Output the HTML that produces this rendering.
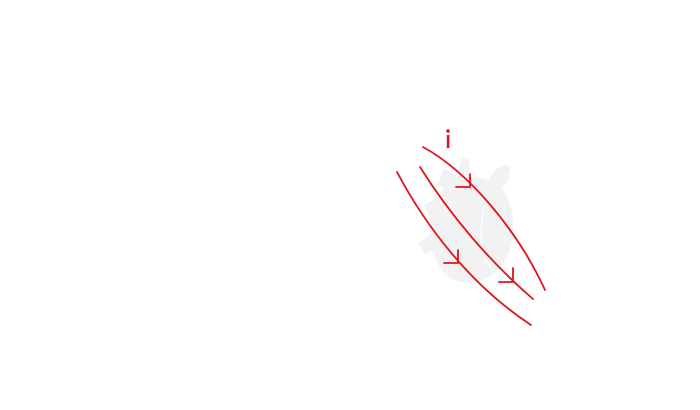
<!DOCTYPE html>
<html><head><style>html,body{margin:0;padding:0;background:#fff;width:700px;height:410px;overflow:hidden}</style></head>
<body>
<svg width="700" height="410" viewBox="0 0 700 410" xmlns="http://www.w3.org/2000/svg">
<g fill="#f2f2f2">
  <path d="M436 198 C452 172 488 172 503 190 C518 212 516 250 500 268 C486 284 460 288 445 274 C430 258 424 222 436 198 Z"/>
  <path d="M480 190 L497 168 L510 178 L494 200 Z"/>
  <ellipse cx="503" cy="173" rx="6" ry="9" transform="rotate(40 503 173)"/>
  <path d="M455 185 L462 158 L470 160 L468 188 Z"/>
  <path d="M438 185 L443 168 L458 175 L452 192 Z"/>
  <path d="M418 243 L440 228 L447 240 L425 255 Z"/>
  <path d="M424 205 L440 197 L444 212 L430 218 Z"/>
</g>
<path d="M485 205 C478 230 480 255 492 270" stroke="#fff" stroke-width="1.2" fill="none"/>
<g stroke="#e0141e" stroke-width="1.8" fill="none" stroke-linecap="round">
  <path d="M423 147 C465 170 515 225 545 290"/>
  <path d="M420 167 C450 215 490 262 533 299"/>
  <path d="M397 172 C425 225 470 285 531 325"/>
  <path d="M456 187 L470 187 L470 174"/>
  <path d="M444 263 L458 263 L458 250"/>
  <path d="M499 282 L513 282 L513 268"/>
</g>
<circle cx="448" cy="131" r="1.8" fill="#e0141e"/>
<rect x="446.8" y="135" width="2.6" height="13" fill="#e0141e"/>
</svg>
</body></html>
